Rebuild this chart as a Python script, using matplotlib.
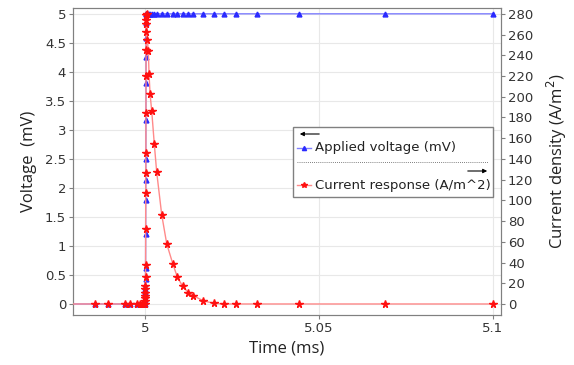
import matplotlib
matplotlib.use('Agg')
from matplotlib import pyplot as plt
from matplotlib.lines import Line2D
from matplotlib.patches import Rectangle, FancyArrowPatch
from matplotlib.ticker import FuncFormatter

# time points (ms), shared by both series
t_pre = [4.97, 4.9856, 4.9894, 4.9943, 4.9957, 4.9977, 4.9985, 4.9992, 4.9997]
t_ramp = [5.0, 5.00002, 5.00004, 5.00006, 5.00008, 5.0001, 5.00012, 5.00014,
          5.00016, 5.00018, 5.0002, 5.00022, 5.00024, 5.00026, 5.00028,
          5.0003, 5.00032, 5.00034, 5.00036, 5.0004, 5.0005]
t_post = [5.00066, 5.00095, 5.00115, 5.00144, 5.00193, 5.00267, 5.00336,
          5.0048, 5.00624, 5.00796, 5.00928, 5.01083, 5.01244, 5.01388,
          5.01676, 5.01983, 5.02279, 5.02607, 5.0321, 5.04426, 5.069, 5.1]

v_pre = [0, 0, 0, 0, 0, 0, 0, 0, 0]
v_ramp = [0, 0.05, 0.1, 0.15, 0.2, 0.25, 0.3, 0.43, 0.62, 1.2, 1.8, 2.14,
          2.49, 3.17, 3.8, 4.26, 4.58, 4.84, 5, 5, 5]
v_post = [5] * 22

j_pre = [0, 0, 0, 0, 0, 0, 0, 0, 0]
j_ramp = [0, 3, 6, 8, 11, 14, 17, 26, 38, 72, 107, 126, 146, 184, 220, 245,
          262, 270, 274, 279, 280]
j_post = [255, 244, 222, 203, 186, 154, 127, 86, 58, 39, 26, 17, 11, 8, 3,
          0.6, 0, 0, 0, 0, 0, 0]

time = t_pre + t_ramp + t_post
voltage = v_pre + v_ramp + v_post
current = j_pre + j_ramp + j_post

W, H = 574, 365
fig = plt.figure(figsize=(W / 100, H / 100), dpi=100)
ax = fig.add_axes([73 / W, 1 - 315 / H, 428 / W, 307 / H])
ax2 = ax.twinx()

ax.plot(time, voltage, color='#8080ff', lw=1, marker='^', ms=3.5,
        mfc='#2a2aff', mec='#2a2aff', zorder=3)
ax2.plot(time, current, color='#ff8a8a', lw=1, marker='*', ms=5.5,
         mfc='#ff1010', mec='#ff1010', zorder=3)

ax.set_xlim(4.9793, 5.1023)
ax.set_ylim(-0.19, 5.1)
ax2.set_ylim(-0.19 * 56, 5.1 * 56)
ax.set_xticks([5, 5.05, 5.1])
ax.set_yticks([0, 0.5, 1, 1.5, 2, 2.5, 3, 3.5, 4, 4.5, 5])
ax2.set_yticks(range(0, 281, 20))
ax.xaxis.set_major_formatter(FuncFormatter(lambda v, p: '%g' % v))
ax.yaxis.set_major_formatter(FuncFormatter(lambda v, p: '%g' % v))

ax.grid(True, color='#e8e8e8', lw=0.8)
ax.set_axisbelow(True)
for a in (ax, ax2):
    for s in a.spines.values():
        s.set_color('#808080')
    a.tick_params(colors='#808080', labelcolor='#333333', labelsize=9.5,
                  length=3, pad=2)

lab = dict(fontsize=12, color='#222222', family='Open Sans')
ax.set_xlabel('Time (ms)', labelpad=4, **lab)
ax.set_ylabel('Voltage  (mV)', labelpad=6, **lab)
ax2.set_ylabel('Current density (A/m$^2$)', labelpad=8, **lab)

# legend box drawn by hand (pixel positions)
def fx(px):
    return px / W

def fy(py):
    return 1 - py / H

fig.patches.append(Rectangle((fx(293), fy(197)), fx(493) - fx(293),
                             fy(127) - fy(197), transform=fig.transFigure,
                             fc='white', ec='#808080', lw=1, zorder=5))
fig.patches.append(FancyArrowPatch((fx(322), fy(134)), (fx(297), fy(134)),
                                   transform=fig.transFigure,
                                   arrowstyle='-|>', mutation_scale=6,
                                   color='black', lw=0.8, zorder=6))
fig.patches.append(FancyArrowPatch((fx(465), fy(171)), (fx(490), fy(171)),
                                   transform=fig.transFigure,
                                   arrowstyle='-|>', mutation_scale=6,
                                   color='black', lw=0.8, zorder=6))
fig.lines.append(Line2D([fx(297), fx(488)], [fy(162), fy(162)],
                        transform=fig.transFigure, color='#555555',
                        lw=0.6, ls=(0, (1, 1.5)), zorder=6))
fig.lines.append(Line2D([fx(297), fx(311)], [fy(148), fy(148)],
                        transform=fig.transFigure, color='#8080ff', lw=1,
                        zorder=6))
fig.lines.append(Line2D([fx(304)], [fy(148)], transform=fig.transFigure,
                        marker='^', ms=3, color='#2a2aff', zorder=7))
fig.lines.append(Line2D([fx(297), fx(311)], [fy(185), fy(185)],
                        transform=fig.transFigure, color='#ff8a8a', lw=1,
                        zorder=6))
fig.lines.append(Line2D([fx(304)], [fy(185)], transform=fig.transFigure,
                        marker='*', ms=4, color='#ff1010', zorder=7))
fig.text(fx(315), fy(148), 'Applied voltage (mV)', fontsize=9.5,
         color='#222222', va='center', zorder=7)
fig.text(fx(315), fy(185), 'Current response (A/m^2)', fontsize=9.5,
         color='#222222', va='center', zorder=7)

fig.savefig('out.png', dpi=100)
